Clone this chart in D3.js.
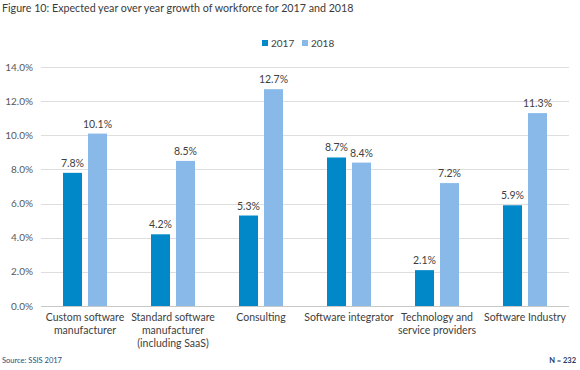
<!DOCTYPE html>
<html>
<head>
<meta charset="utf-8">
<script src="https://cdn.jsdelivr.net/npm/d3@7"></script>
<style>
body { margin: 0; background: #fff; }
text { font-family: Lato, "Open Sans", sans-serif; }
</style>
</head>
<body>
<div class="chart"></div>
<script>
var categories = [["Custom software", "manufacturer"],
				  ["Standard software", "manufacturer", "(including SaaS)"],
				  ["Consulting"],
				  ["Software integrator"],
				  ["Technology and", "service providers"],
				  ["Software Industry"]];
var series = ["2017", "2018"];
var values2017 = [7.8, 4.2, 5.3, 8.7, 2.1, 5.9];
var values2018 = [10.1, 8.5, 12.7, 8.4, 7.2, 11.3];
var yTicks = [0, 2, 4, 6, 8, 10, 12, 14];

var width = 580, height = 370;
var colors = ["#0088c9", "#88b9e9"];

var svg = d3.select(".chart").append("svg")
	.attr("width", width)
	.attr("height", height);

var x = d3.scaleBand()
	.domain(d3.range(categories.length))
	.range([41, 569]);

var y = d3.scaleLinear()
	.domain([0, 14])
	.range([306, 67]);

// title
svg.append("text")
	.attr("x", 2)
	.attr("y", 12)
	.attr("font-size", 10.7)
	.attr("fill", "#3a3a3a")
	.text("Figure 10: Expected year over year growth of workforce for 2017 and 2018");

// gridlines + y labels
svg.append("g").selectAll("line")
	.data(yTicks)
	.enter().append("line")
	.attr("x1", x.range()[0])
	.attr("x2", x.range()[1])
	.attr("y1", function(d) { return Math.round(y(d)) + 0.5; })
	.attr("y2", function(d) { return Math.round(y(d)) + 0.5; })
	.attr("stroke", function(d) { return d === 0 ? "#c8c8c8" : "#dedede"; })
	.attr("stroke-width", 1);

svg.append("g").selectAll("text")
	.data(yTicks)
	.enter().append("text")
	.attr("x", 33)
	.attr("y", function(d) { return y(d) + 3.5; })
	.attr("text-anchor", "end")
	.attr("font-size", 10)
	.attr("fill", "#595959")
	.text(function(d) { return d.toFixed(1) + "%"; });

// bars
var barW = 19, gap = 6;
var allSeries = [values2017, values2018];

for(var s = 0; s < allSeries.length; s++) {
	var g = svg.append("g");
	var offset = s === 0 ? -(gap / 2 + barW) : gap / 2;

	g.selectAll("rect")
		.data(allSeries[s])
		.enter().append("rect")
		.attr("x", function(d, i) { return x(i) + x.bandwidth() / 2 + offset; })
		.attr("y", function(d) { return y(d); })
		.attr("width", barW)
		.attr("height", function(d) { return y(0) - y(d); })
		.attr("fill", colors[s]);

	g.selectAll("text")
		.data(allSeries[s])
		.enter().append("text")
		.attr("x", function(d, i) { return x(i) + x.bandwidth() / 2 + offset + barW / 2; })
		.attr("y", function(d) { return y(d) - 6; })
		.attr("text-anchor", "middle")
		.attr("font-size", 10.5)
		.attr("fill", "#404040")
		.text(function(d) { return d.toFixed(1) + "%"; });
}

// category labels
var cat = svg.append("g").selectAll("text")
	.data(categories)
	.enter().append("text")
	.attr("x", function(d, i) { return x(i) + x.bandwidth() / 2; })
	.attr("y", 321)
	.attr("text-anchor", "middle")
	.attr("font-size", 10.5)
	.attr("fill", "#404040");

cat.selectAll("tspan")
	.data(function(d) { return d; })
	.enter().append("tspan")
	.attr("x", function() { return this.parentNode.getAttribute("x"); })
	.attr("dy", function(d, i) { return i === 0 ? 0 : 13; })
	.text(function(d) { return d; });

// legend
var legend = svg.append("g");
var legendX = [262, 302];
for(var i = 0; i < series.length; i++) {
	legend.append("rect")
		.attr("x", legendX[i])
		.attr("y", 40)
		.attr("width", 6)
		.attr("height", 6)
		.attr("fill", colors[i]);
	legend.append("text")
		.attr("x", legendX[i] + 9)
		.attr("y", 47)
		.attr("font-size", 10)
		.attr("fill", "#404040")
		.text(series[i]);
}

// footer
svg.append("text")
	.attr("x", 2)
	.attr("y", 363)
	.attr("font-size", 7.5)
	.attr("fill", "#1f4e79")
	.text("Source: SSIS 2017");

svg.append("text")
	.attr("x", 576)
	.attr("y", 363)
	.attr("text-anchor", "end")
	.attr("font-size", 7.5)
	.attr("font-weight", "bold")
	.attr("fill", "#1f3864")
	.text("N = 232");
</script>
</body>
</html>
